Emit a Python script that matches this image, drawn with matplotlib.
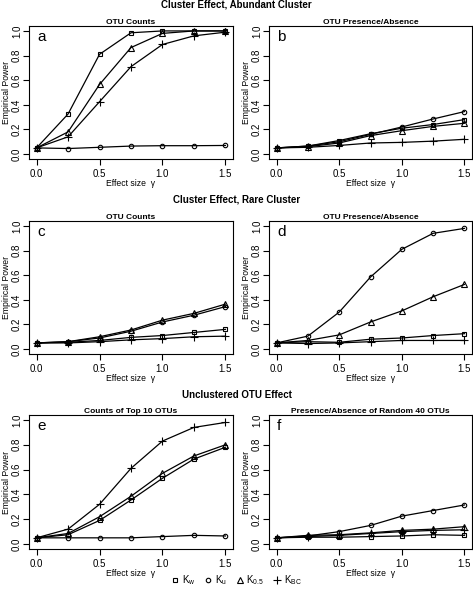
import matplotlib
matplotlib.use('Agg')
import matplotlib.pyplot as plt
from matplotlib.lines import Line2D

plt.rcParams['font.family'] = ['Liberation Sans', 'DejaVu Sans']
plt.rcParams['mathtext.fontset'] = 'custom'
plt.rcParams['mathtext.rm'] = 'Liberation Sans'
plt.rcParams['mathtext.it'] = 'Liberation Sans'

# effect sizes
x = [0, 0.25, 0.5, 0.75, 1.0, 1.25, 1.5]

# panel a
a_kw = [0.05, 0.325, 0.81, 0.985, 1.0, 1.0, 1.0]
a_ku = [0.05, 0.045, 0.055, 0.065, 0.068, 0.068, 0.07]
a_k05 = [0.05, 0.18, 0.565, 0.865, 0.98, 1.0, 1.0]
a_kbc = [0.05, 0.14, 0.425, 0.71, 0.89, 0.96, 0.99]

# panel b
b_kw = [0.05, 0.065, 0.11, 0.165, 0.21, 0.24, 0.28]
b_ku = [0.05, 0.065, 0.10, 0.16, 0.22, 0.285, 0.345]
b_k05 = [0.05, 0.06, 0.09, 0.15, 0.19, 0.225, 0.25]
b_kbc = [0.05, 0.055, 0.07, 0.09, 0.095, 0.105, 0.12]

# panel c
c_kw = [0.05, 0.055, 0.07, 0.095, 0.11, 0.135, 0.16]
c_ku = [0.05, 0.06, 0.09, 0.145, 0.22, 0.275, 0.345]
c_k05 = [0.05, 0.06, 0.10, 0.155, 0.235, 0.29, 0.365]
c_kbc = [0.05, 0.05, 0.06, 0.075, 0.085, 0.10, 0.105]

# panel d
d_kw = [0.05, 0.06, 0.055, 0.08, 0.09, 0.11, 0.125]
d_ku = [0.05, 0.105, 0.30, 0.585, 0.81, 0.94, 0.98]
d_k05 = [0.05, 0.07, 0.115, 0.22, 0.31, 0.425, 0.525]
d_kbc = [0.05, 0.045, 0.05, 0.06, 0.07, 0.07, 0.07]

# panel e
e_kw = [0.05, 0.075, 0.19, 0.355, 0.53, 0.685, 0.78]
e_ku = [0.05, 0.05, 0.05, 0.05, 0.06, 0.07, 0.065]
e_k05 = [0.05, 0.085, 0.22, 0.385, 0.57, 0.71, 0.80]
e_kbc = [0.05, 0.12, 0.32, 0.61, 0.83, 0.94, 0.98]

# panel f
f_kw = [0.05, 0.055, 0.055, 0.06, 0.065, 0.075, 0.07]
f_ku = [0.05, 0.065, 0.10, 0.15, 0.225, 0.27, 0.315]
f_k05 = [0.05, 0.07, 0.075, 0.09, 0.11, 0.12, 0.14]
f_kbc = [0.05, 0.06, 0.07, 0.085, 0.10, 0.11, 0.115]

panel_titles = ['OTU Counts', 'OTU Presence/Absence',
                'OTU Counts', 'OTU Presence/Absence',
                'Counts of Top 10 OTUs', 'Presence/Absence of Random 40 OTUs']
row_titles = ['Cluster Effect, Abundant Cluster',
              'Cluster Effect, Rare Cluster',
              'Unclustered OTU Effect']
letters = ['a', 'b', 'c', 'd', 'e', 'f']
series = [
    (a_kw, a_ku, a_k05, a_kbc),
    (b_kw, b_ku, b_k05, b_kbc),
    (c_kw, c_ku, c_k05, c_kbc),
    (d_kw, d_ku, d_k05, d_kbc),
    (e_kw, e_ku, e_k05, e_kbc),
    (f_kw, f_ku, f_k05, f_kbc),
]
legend_labels = [r'$\mathrm{K_w}$', r'$\mathrm{K_u}$', r'$\mathrm{K_{0.5}}$', r'$\mathrm{K_{BC}}$']
markers = ['s', 'o', '^', '+']
msizes = [3.2, 3.2, 3.8, 5.5]

W, H = 473, 589
fig = plt.figure(figsize=(W / 100, H / 100), dpi=100)

cols = [(29, 233), (269, 472)]
rows = [(26, 159), (221, 354), (415, 549)]
row_title_y = [4.5, 200, 395]

for i in range(6):
    r, c = divmod(i, 2)
    x0, x1 = cols[c]
    y0, y1 = rows[r]
    ax = fig.add_axes([x0 / W, 1 - y1 / H, (x1 - x0) / W, (y1 - y0) / H])
    for vals, m, ms in zip(series[i], markers, msizes):
        ax.plot(x, vals, color='black', lw=0.9, marker=m, ms=ms,
                mfc='none', mec='black', mew=0.8)
    ax.set_xlim(-0.06, 1.56)
    ax.set_ylim(-0.04, 1.04)
    ax.set_xticks([0.0, 0.5, 1.0, 1.5])
    ax.set_yticks([0.0, 0.2, 0.4, 0.6, 0.8, 1.0])
    ax.set_xticklabels(['0.0', '0.5', '1.0', '1.5'])
    ax.set_yticklabels(['0.0', '0.2', '0.4', '0.6', '0.8', '1.0'])
    ax.tick_params(axis='x', length=4, width=0.8, pad=3.5, labelsize=7)
    ax.tick_params(axis='y', length=4, width=0.8, pad=1, labelsize=7,
                   labelrotation=90)
    for lab in ax.get_yticklabels():
        lab.set_va('center')
    for s in ax.spines.values():
        s.set_linewidth(0.8)
    ax.set_title(panel_titles[i], fontsize=6, fontweight='bold', pad=1.5)
    ax.set_xlabel('Effect size  γ', fontsize=6.2, labelpad=0)
    ax.set_ylabel('Empirical Power', fontsize=6.2, labelpad=1)
    ax.text(0.04, 0.92, letters[i], transform=ax.transAxes, fontsize=11,
            ha='left', va='center')

for t, yy in zip(row_titles, row_title_y):
    fig.text(0.5, 1 - yy / H, t, ha='center', va='center',
             fontsize=7, fontweight='bold')

handles = [Line2D([], [], ls='none', marker=m, ms=ms, mfc='none', mec='black', mew=0.8)
           for m, ms in zip(markers, msizes)]
fig.legend(handles, legend_labels, loc='center', bbox_to_anchor=(0.5, 1 - 580 / H),
           ncol=4, frameon=False, fontsize=7, handlelength=0.8, handletextpad=0.3,
           columnspacing=0.9, borderpad=0)

fig.savefig('out.png', dpi=100)
